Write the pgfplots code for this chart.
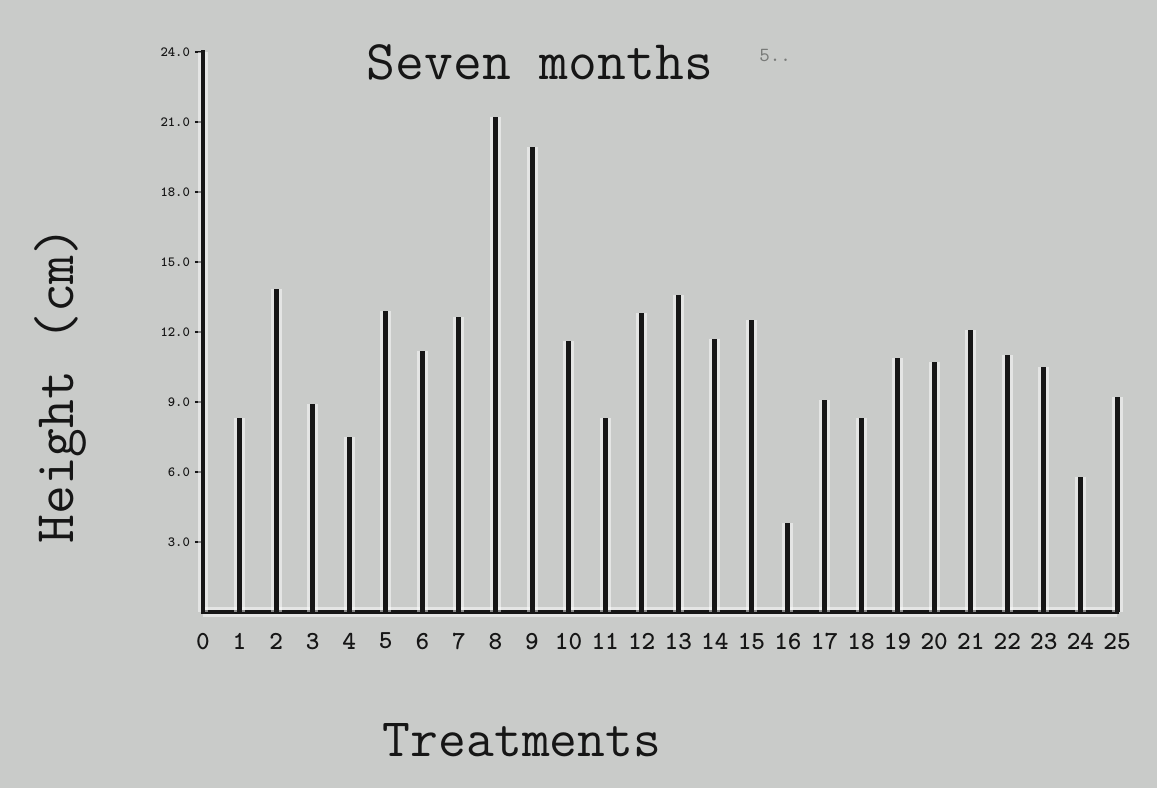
\documentclass[border=0pt]{standalone}
\usepackage{pgfplots}
\pgfplotsset{compat=1.18}
\definecolor{bg}{RGB}{201,203,201}
\definecolor{ink}{RGB}{22,22,22}
\pgfplotstableread{
x y
1 8.3
2 13.85
3 8.9
4 7.5
5 12.9
6 11.2
7 12.65
8 21.2
9 19.95
10 11.6
11 8.3
12 12.8
13 13.6
14 11.7
15 12.5
16 3.8
17 9.1
18 8.3
19 10.9
20 10.7
21 12.1
22 11.0
23 10.5
24 5.8
25 9.2
}\heights
\begin{document}
\begin{tikzpicture}
\fill[bg] (-101.5pt,-88pt) rectangle (477pt,306pt);
\useasboundingbox (-101.5pt,-88pt) rectangle (477pt,306pt);
\begin{axis}[
  scale only axis,
  width=457pt, height=280pt,
  at={(0,0)}, anchor=south west,
  xmin=0, xmax=25, ymin=0, ymax=24,
  axis lines*=left,
  axis line style={ink, line width=2.4pt, -, line cap=rect,
     preaction={draw=white, opacity=0.5, line width=5pt}},
  /pgf/number format/assume math mode=true,
  xtick={0,...,25},
  xticklabel style={font=\ttfamily\bfseries\fontsize{13}{14}\selectfont, ink, yshift=-3pt},
  major x tick style={draw=none},
  ytick={3,6,...,24},
  yticklabels={3.0,6.0,9.0,12.0,15.0,18.0,21.0,24.0},
  yticklabel style={font=\ttfamily\bfseries\fontsize{7}{8}\selectfont, ink, xshift=1pt},
  tick align=outside,
  major y tick style={ink, line width=1.2pt},
  major tick length=4pt,
  clip=false,
]
\addplot[ycomb, draw=white, opacity=0.5, line width=5.5pt, mark=none] table[x=x,y=y]{\heights};
\addplot[ycomb, draw=ink, line width=2.5pt, mark=none] table[x=x,y=y]{\heights};
\end{axis}
\node[anchor=base, font=\ttfamily\fontsize{28}{30}\selectfont, text=ink] at (168.5pt,266pt) {Seven months};
\node[font=\ttfamily\fontsize{10}{11}\selectfont, text=ink!45!bg] at (286pt,278pt) {5..};
\node[rotate=90, font=\ttfamily\fontsize{28}{30}\selectfont, text=ink] at (-71.5pt,113.5pt) {Height (cm)};
\node[font=\ttfamily\fontsize{27}{29}\selectfont, text=ink] at (159.5pt,-64pt) {Treatments};
\end{tikzpicture}
\end{document}
